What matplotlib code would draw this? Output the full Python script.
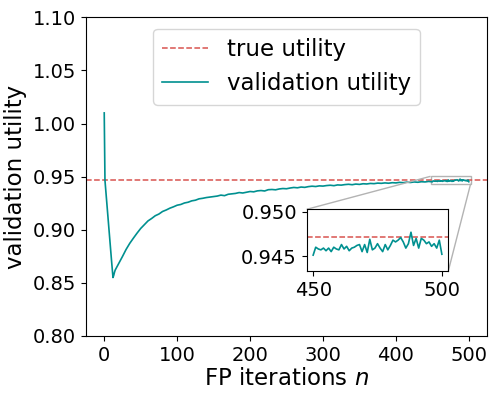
import matplotlib
matplotlib.use('Agg')
import matplotlib.pyplot as plt
from mpl_toolkits.axes_grid1.inset_locator import mark_inset

# true utility level and the validation curve
trueUtility = 0.9472

earlyIters = list(range(0, 15))
earlyVals = [1.0100, 0.9465, 0.9380, 0.9300, 0.9215, 0.9130, 0.9050, 0.8960,
             0.8880, 0.8795, 0.8710, 0.8630, 0.8550, 0.8570, 0.8598]

midIters = list(range(15, 450, 5))
midVals = [0.8620, 0.8683, 0.8748, 0.8815, 0.8872, 0.8921, 0.8968, 0.9012,
           0.9047, 0.9083, 0.9106, 0.9132, 0.9148, 0.9172, 0.9186, 0.9203,
           0.9216, 0.9231, 0.9238, 0.9252, 0.9259, 0.9272, 0.9278, 0.9291,
           0.9296, 0.9303, 0.9308, 0.9314, 0.9317, 0.9326, 0.9321, 0.9334,
           0.9338, 0.9342, 0.9350, 0.9346, 0.9353, 0.9360, 0.9357, 0.9366,
           0.9369, 0.9365, 0.9377, 0.9379, 0.9376, 0.9384, 0.9388, 0.9386,
           0.9393, 0.9398, 0.9395, 0.9402, 0.9399, 0.9406, 0.9410, 0.9407,
           0.9413, 0.9411, 0.9416, 0.9419, 0.9415, 0.9422, 0.9420, 0.9425,
           0.9428, 0.9424, 0.9430, 0.9427, 0.9433, 0.9431, 0.9436, 0.9434,
           0.9439, 0.9437, 0.9441, 0.9438, 0.9443, 0.9441, 0.9446, 0.9443,
           0.9448, 0.9445, 0.9450, 0.9447, 0.9452, 0.9450, 0.9455]

lateIters = list(range(450, 501))
lateVals = [0.9451, 0.9460, 0.9458, 0.9457, 0.9459, 0.9456, 0.9459, 0.9455,
            0.9460, 0.9458, 0.9457, 0.9463, 0.9458, 0.9461, 0.9456, 0.9459,
            0.9460, 0.9462, 0.9463, 0.9455, 0.9463, 0.9454, 0.9469, 0.9457,
            0.9459, 0.9464, 0.9459, 0.9455, 0.9463, 0.9457, 0.9462, 0.9468,
            0.9466, 0.9468, 0.9471, 0.9466, 0.9459, 0.9464, 0.9477, 0.9462,
            0.9470, 0.9459, 0.9470, 0.9468, 0.9464, 0.9466, 0.9461, 0.9464,
            0.9459, 0.9468, 0.9452]

iters = earlyIters + midIters + lateIters
vals = earlyVals + midVals + lateVals

tealCol = '#009090'
redCol = '#d9534f'

fig = plt.figure(figsize=(4.98, 3.99), dpi=100)
ax = fig.add_axes([0.1727, 0.158, 0.8053, 0.7986])

ax.axhline(trueUtility, color=redCol, ls='--', lw=1.1, label='true utility')
ax.plot(iters, vals, color=tealCol, lw=1.2, label='validation utility')
ax.set_ylim(0.80, 1.10)
ax.set_yticks([0.80, 0.85, 0.90, 0.95, 1.00, 1.05, 1.10])
ax.set_yticklabels(['0.80', '0.85', '0.90', '0.95', '1.00', '1.05', '1.10'])
ax.set_xticks([0, 100, 200, 300, 400, 500])
ax.tick_params(labelsize=14)
ax.set_xlabel('FP iterations $n$', fontsize=16.5, labelpad=2)
ax.set_ylabel('validation utility', fontsize=16.5, labelpad=4)
ax.legend(loc='upper center', fontsize=16.5)

# zoomed inset for the last 50 iterations
axins = fig.add_axes([0.6159, 0.3208, 0.2843, 0.1546])
axins.axhline(trueUtility, color=redCol, ls='--', lw=1.1)
axins.plot(lateIters, lateVals, color=tealCol, lw=1.2)
axins.set_ylim(0.9433, 0.9503)
axins.set_xticks([450, 500])
axins.set_yticks([0.945, 0.950])
axins.set_yticklabels(['0.945', '0.950'])
axins.tick_params(labelsize=14)
mark_inset(ax, axins, loc1=2, loc2=4, fc='none', ec='0.7', lw=1)

fig.savefig('out.png', dpi=100)
